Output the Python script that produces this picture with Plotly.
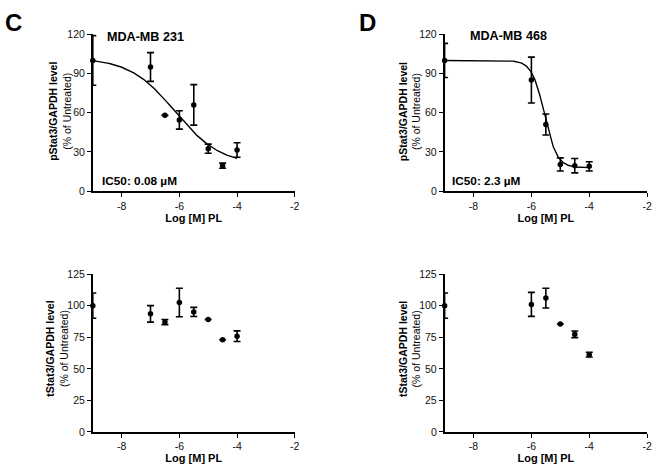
import numpy as np
import plotly.graph_objects as go

# ---------------- data ----------------
# Panel C (MDA-MB 231) pStat3
c_p_x = [-9, -7, -6.5, -6, -5.5, -5, -4.5, -4]
c_p_y = [100, 95, 58, 54.5, 66, 32.5, 19.5, 31.5]
c_p_err = [19, 11, 0, 7, 15.5, 3.5, 2, 5.5]
# fit (4PL) parameters, IC50 curve
c_fit = dict(top=102, bottom=20, logec50=-6.15, hill=0.55)

# Panel D (MDA-MB 468) pStat3
d_p_x = [-9, -6, -5.5, -5, -4.5, -4]
d_p_y = [100, 85, 51, 20.5, 19.5, 19]
d_p_err = [13, 17.5, 8, 5, 5.5, 3.5]
d_fit = dict(top=100, bottom=18, logec50=-5.55, hill=2.0)

# Panel C tStat3
c_t_x = [-9, -7, -6.5, -6, -5.5, -5, -4.5, -4]
c_t_y = [100, 93.5, 87, 102.5, 95, 89, 73, 75.8]
c_t_err = [10, 6.5, 2, 11.3, 3.6, 0, 0, 4.2]

# Panel D tStat3
d_t_x = [-9, -6, -5.5, -5, -4.5, -4]
d_t_y = [100, 101, 106, 85.5, 77.3, 61.2]
d_t_err = [10, 9.5, 7.8, 0, 2.6, 1.9]

x_ticks = [-8, -6, -4, -2]
x_tick_labels = ["-8", "-6", "-4", "-2"]
top_y_ticks = [0, 30, 60, 90, 120]
bot_y_ticks = [0, 25, 50, 75, 100, 125]

FONT = "Arial, Liberation Sans, sans-serif"
W, H = 663, 476


def fourpl(x, p):
    return p["bottom"] + (p["top"] - p["bottom"]) / (1 + 10 ** ((x - p["logec50"]) * p["hill"]))


fig = go.Figure()


def add_points(x, y, err, xa, ya):
    fig.add_trace(go.Scatter(
        x=x, y=y, mode="markers", xaxis=xa, yaxis=ya,
        marker=dict(color="black", size=5.5),
        error_y=dict(type="data", array=err, visible=True, color="black",
                     thickness=1.6, width=3.5),
        cliponaxis=False, showlegend=False))


def add_fit(p, xa, ya):
    xs = np.linspace(-9, -4, 200)
    fig.add_trace(go.Scatter(
        x=xs, y=fourpl(xs, p), mode="lines", xaxis=xa, yaxis=ya,
        line=dict(color="black", width=1.4), cliponaxis=False, showlegend=False))


add_fit(c_fit, "x", "y")
add_points(c_p_x, c_p_y, c_p_err, "x", "y")
add_fit(d_fit, "x2", "y2")
add_points(d_p_x, d_p_y, d_p_err, "x2", "y2")
add_points(c_t_x, c_t_y, c_t_err, "x3", "y3")
add_points(d_t_x, d_t_y, d_t_err, "x4", "y4")

xdom_l = [93.5 / W, 297 / W]
xdom_r = [448 / W, 652 / W]
ydom_t = [1 - 190 / H, 1 - 29 / H]
ydom_b = [1 - 437 / H, 1 - 275 / H]

axis_common = dict(showline=True, linecolor="black", linewidth=1.6,
                   ticks="outside", ticklen=4, tickwidth=1.4, tickcolor="black",
                   showgrid=False, zeroline=False,
                   tickfont=dict(family=FONT, size=10.5, color="#111"))


def xax(dom, anchor):
    return dict(domain=dom, anchor=anchor, range=[-9, -2], tickvals=x_ticks, ticktext=x_tick_labels,
                title=dict(text="<b>Log [M] PL</b>", font=dict(family=FONT, size=11, color="black"), standoff=2),
                **axis_common)


def yax(dom, anchor, ticks, rng):
    return dict(domain=dom, anchor=anchor, range=rng, tickvals=ticks, **axis_common)


fig.update_layout(
    width=W, height=H,
    margin=dict(l=0, r=0, t=0, b=0),
    plot_bgcolor="white", paper_bgcolor="white",
    font=dict(family=FONT),
    xaxis=xax(xdom_l, "y"), yaxis=yax(ydom_t, "x", top_y_ticks, [0, 120]),
    xaxis2=xax(xdom_r, "y2"), yaxis2=yax(ydom_t, "x2", top_y_ticks, [0, 120]),
    xaxis3=xax(xdom_l, "y3"), yaxis3=yax(ydom_b, "x3", bot_y_ticks, [0, 125]),
    xaxis4=xax(xdom_r, "y4"), yaxis4=yax(ydom_b, "x4", bot_y_ticks, [0, 125]),
)


def paper_ann(text, px, py, size, xanchor="center", yanchor="middle", angle=0):
    fig.add_annotation(text=text, x=px / W, y=1 - py / H, xref="paper", yref="paper",
                       xanchor=xanchor, yanchor=yanchor, showarrow=False, textangle=angle,
                       font=dict(family=FONT, size=size, color="black"))


paper_ann("<b>C</b>", 13.5, 17, 24)
paper_ann("<b>D</b>", 370, 17, 24)

# y-axis titles
paper_ann("<b>pStat3/GAPDH level</b><br>(% of Untreated)", 61, 108, 10.5, angle=-90)
paper_ann("<b>pStat3/GAPDH level</b><br>(% of Untreated)", 413, 108, 10.5, angle=-90)
paper_ann("<b>tStat3/GAPDH level</b><br>(% of Untreated)", 58, 352, 10.5, angle=-90)
paper_ann("<b>tStat3/GAPDH level</b><br>(% of Untreated)", 413, 352, 10.5, angle=-90)

fig.add_annotation(text="<b>MDA-MB 231</b>", x=-7.16, y=118, xref="x", yref="y", showarrow=False,
                   xanchor="center", yanchor="middle", font=dict(family=FONT, size=12.6, color="black"))
fig.add_annotation(text="<b>MDA-MB 468</b>", x=-6.78, y=119, xref="x2", yref="y2", showarrow=False,
                   xanchor="center", yanchor="middle", font=dict(family=FONT, size=12.6, color="black"))
fig.add_annotation(text="<b>IC50: 0.08 µM</b>", x=-8.75, y=7.5, xref="x", yref="y", showarrow=False,
                   xanchor="left", yanchor="middle", font=dict(family=FONT, size=11.8, color="black"))
fig.add_annotation(text="<b>IC50: 2.3 µM</b>", x=-8.8, y=7.5, xref="x2", yref="y2", showarrow=False,
                   xanchor="left", yanchor="middle", font=dict(family=FONT, size=11.8, color="black"))

fig.write_html("out.html", config={"displayModeBar": False},
               post_script="document.body.style.margin='0px';")
